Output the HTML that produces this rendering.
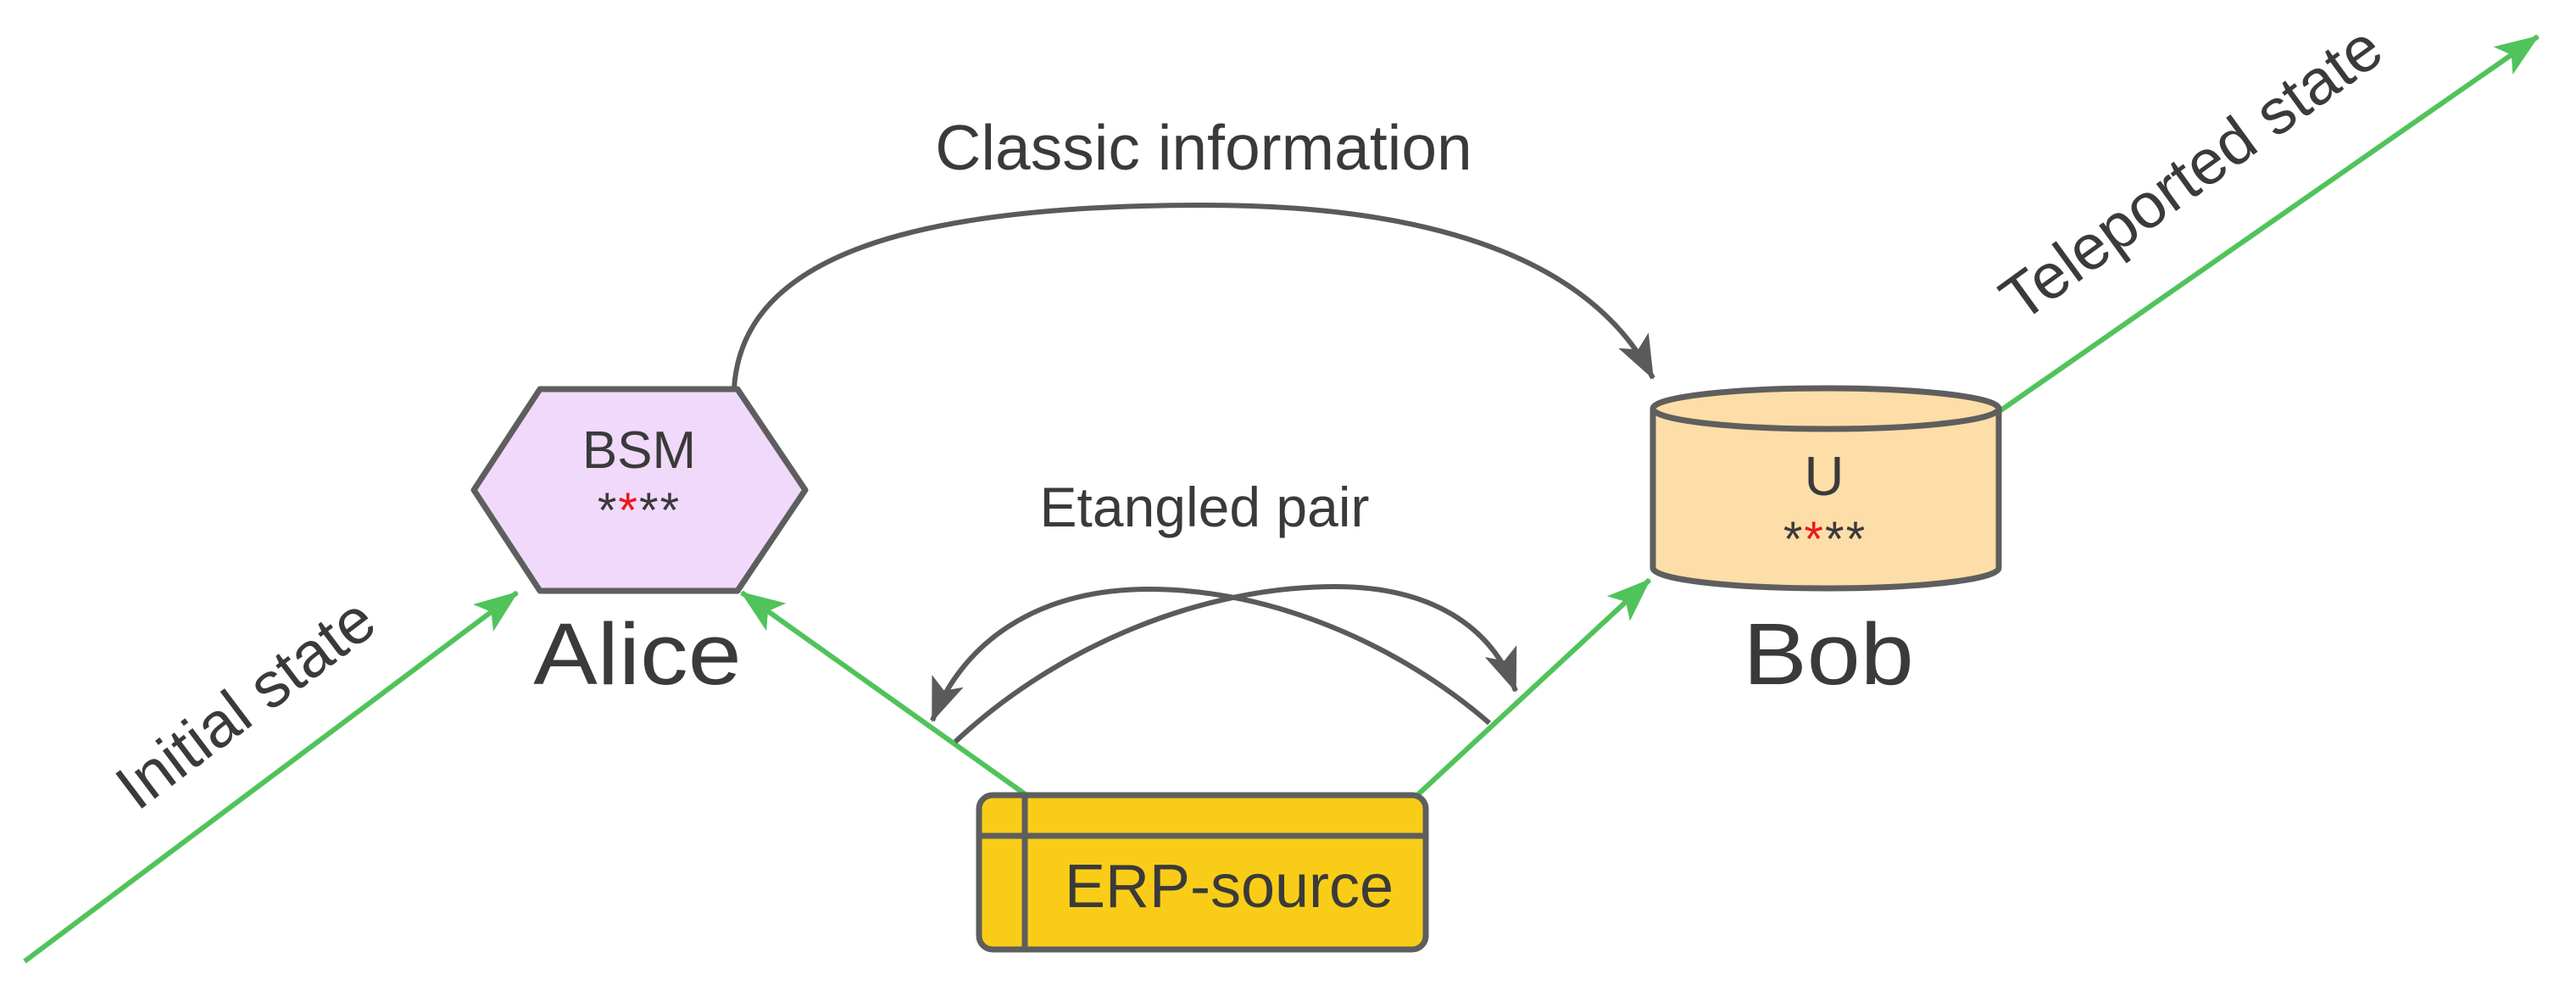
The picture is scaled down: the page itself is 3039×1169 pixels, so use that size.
<!DOCTYPE html>
<html><head><meta charset="utf-8"><style>
html,body{margin:0;padding:0;background:#fff;}
svg{display:block;}
text{font-family:"Liberation Sans",Arial,sans-serif;fill:#3a3a3a;}
</style></head><body>
<svg width="3039" height="1169" viewBox="0 0 3039 1169" xmlns="http://www.w3.org/2000/svg">
<defs>
<marker id="g" markerUnits="userSpaceOnUse" markerWidth="60" markerHeight="60" refX="50" refY="20" orient="auto">
<path d="M0,0 L52,20 L0,40 L12,20 Z" fill="#50c35b"/>
</marker>
<marker id="k" markerUnits="userSpaceOnUse" markerWidth="60" markerHeight="60" refX="50" refY="20" orient="auto">
<path d="M0,0 L52,20 L0,40 L12,20 Z" fill="#5a5a5a"/>
</marker>
</defs>

<g stroke="#50c35b" stroke-width="6" fill="none">
<line x1="29" y1="1134" x2="610" y2="699" marker-end="url(#g)"/>
<line x1="1211" y1="938" x2="875" y2="699" marker-end="url(#g)"/>
<line x1="1672" y1="938" x2="1946" y2="684" marker-end="url(#g)"/>
<line x1="2359" y1="485" x2="2994" y2="43" marker-end="url(#g)"/>
</g>

<path d="M866,459 C875,300 1080,242 1420,242 C1720,242 1885,320 1950,446" stroke="#5a5a5a" stroke-width="6" fill="none" marker-end="url(#k)"/>

<g stroke="#5a5a5a" stroke-width="6" fill="none">
<path d="M1757,853 C1650,760 1500,695 1356,695 C1220,695 1135,760 1100,850" marker-end="url(#k)"/>
<path d="M1127,875 C1250,760 1420,692 1575,692 C1690,692 1760,740 1788,815" marker-end="url(#k)"/>
</g>

<path d="M637,459 L870,459 L950,578 L870,697 L637,697 L559,578 Z" fill="#f1d9fb" stroke="#5e5e5e" stroke-width="7" stroke-linejoin="round"/>
<text x="754" y="552" font-size="62" text-anchor="middle">BSM</text>
<text x="754" y="622" font-size="58" text-anchor="middle" letter-spacing="2">*<tspan fill="#e8191c">*</tspan>**</text>
<text x="752" y="807" font-size="103" text-anchor="middle" transform="translate(752 0) scale(1.1 1) translate(-752 0)">Alice</text>

<path d="M1950,482 L1950,670 A204,24 0 0 0 2358,670 L2358,482" fill="#fddea8" stroke="#5e5e5e" stroke-width="7"/>
<ellipse cx="2154" cy="482" rx="204" ry="24" fill="#fddea8" stroke="#5e5e5e" stroke-width="7"/>
<text x="2152" y="584" font-size="65" text-anchor="middle">U</text>
<text x="2153" y="656" font-size="58" text-anchor="middle" letter-spacing="2">*<tspan fill="#e8191c">*</tspan>**</text>
<text x="2157" y="807" font-size="103" text-anchor="middle" transform="translate(2157 0) scale(1.1 1) translate(-2157 0)">Bob</text>

<rect x="1155" y="938" width="527" height="182" rx="16" fill="#f9cd17" stroke="#5e5e5e" stroke-width="7"/>
<line x1="1209" y1="938" x2="1209" y2="1120" stroke="#5e5e5e" stroke-width="7"/>
<line x1="1155" y1="986" x2="1682" y2="986" stroke="#5e5e5e" stroke-width="7"/>
<text x="1450" y="1070" font-size="72" text-anchor="middle">ERP-source</text>

<text x="1420" y="200" font-size="75" text-anchor="middle">Classic information</text>
<text x="1421" y="621" font-size="66" text-anchor="middle">Etangled pair</text>
<text x="0" y="0" font-size="75" text-anchor="middle" transform="translate(305 850) rotate(-37)">Initial state</text>
<text x="0" y="0" font-size="75" text-anchor="middle" transform="translate(2600 225) rotate(-36)">Teleported state</text>
</svg>
</body></html>
